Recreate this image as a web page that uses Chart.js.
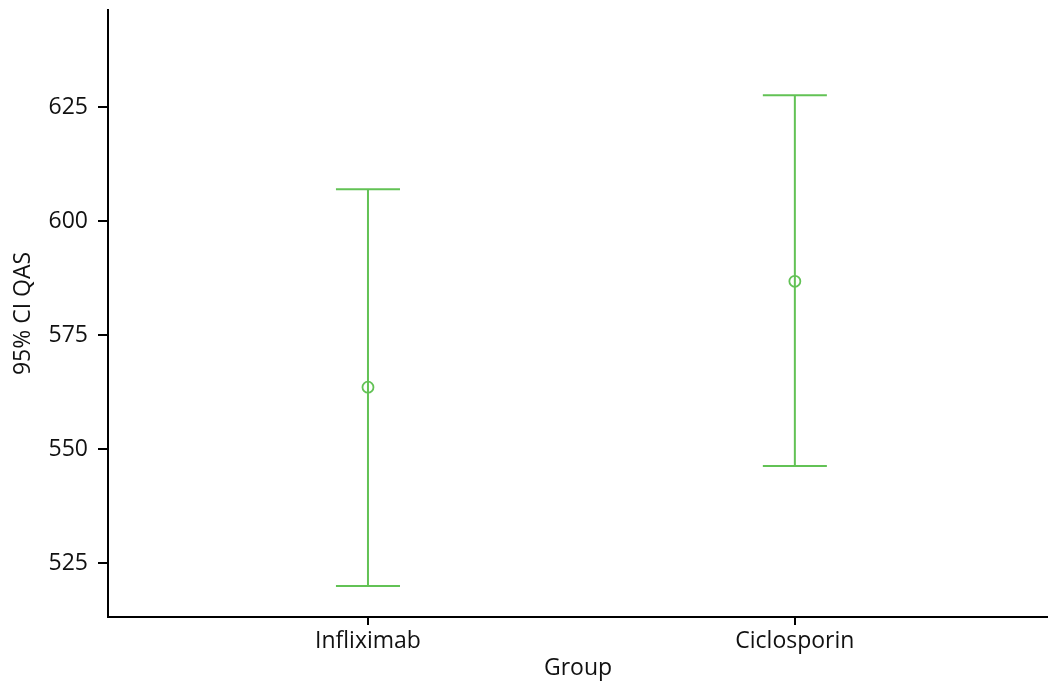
<!DOCTYPE html>
<html>
<head>
<meta charset="utf-8">
<script src="https://cdn.jsdelivr.net/npm/chart.js@4/dist/chart.umd.min.js"></script>
<style>
  html, body { margin: 0; padding: 0; background: #fff; overflow: hidden; }
  #wrap { width: 1048px; height: 684px; position: relative; }
  canvas { display: block; }
</style>
</head>
<body>
<div id="wrap"><canvas id="ciChart"></canvas></div>
<script>
const groups = ['Infliximab', 'Ciclosporin']
const means = [563.6, 586.8]
const lower = [520.0, 546.3]
const upper = [607.0, 627.6]
const yTicks = [525, 550, 575, 600, 625]

const green = '#62c255'
const capHalf = 0.075

Chart.defaults.font.family = 'Open Sans'
Chart.defaults.font.size = 23
Chart.defaults.color = '#111'

// one set of whisker + cap lines per group
const lineSets = []
groups.forEach((g, i) => {
  lineSets.push([{ x: i, y: lower[i] }, { x: i, y: upper[i] }])
  lineSets.push([{ x: i - capHalf, y: upper[i] }, { x: i + capHalf, y: upper[i] }])
  lineSets.push([{ x: i - capHalf, y: lower[i] }, { x: i + capHalf, y: lower[i] }])
})

const datasets = lineSets.map(pts => ({
  type: 'line',
  data: pts,
  borderColor: green,
  borderWidth: 2,
  pointRadius: 0,
  fill: false
}))

datasets.push({
  type: 'scatter',
  data: groups.map((g, i) => ({ x: i, y: means[i] })),
  borderColor: green,
  backgroundColor: 'rgba(0,0,0,0)',
  borderWidth: 1.8,
  pointRadius: 5.5
})

const noPad = scale => {
  scale.paddingTop = 0
  scale.paddingBottom = 0
  scale.paddingLeft = 0
  scale.paddingRight = 0
}

const myChart = new Chart(
  document.getElementById('ciChart'),
  {
    type: 'scatter',
    data: { datasets },
    options: {
      responsive: true,
      maintainAspectRatio: false,
      animation: false,
      layout: { autoPadding: false, padding: { top: 10, right: 0, left: 0, bottom: 0 } },
      plugins: {
        legend: { display: false },
        tooltip: { enabled: false }
      },
      scales: {
        x: {
          type: 'linear',
          min: -0.609,
          max: 1.593,
          afterBuildTicks: scale => { scale.ticks = groups.map((g, i) => ({ value: i })) },
          afterFit: scale => { scale.height = 67; noPad(scale) },
          ticks: {
            padding: 3,
            callback: v => groups[v]
          },
          grid: {
            drawOnChartArea: false,
            drawTicks: true,
            tickLength: 8,
            color: '#000',
            lineWidth: 2
          },
          border: { color: '#000', width: 2 },
          title: {
            display: true,
            text: 'Group',
            padding: { top: 0, bottom: 2 }
          }
        },
        y: {
          min: 513.2,
          max: 646.3,
          afterBuildTicks: scale => { scale.ticks = yTicks.map(v => ({ value: v })) },
          afterFit: scale => { scale.width = 108; noPad(scale) },
          ticks: {
            padding: 10
          },
          grid: {
            drawOnChartArea: false,
            drawTicks: true,
            tickLength: 10,
            color: '#000',
            lineWidth: 2
          },
          border: { color: '#000', width: 2 },
          title: {
            display: true,
            text: '95% CI QAS',
            padding: { top: 10, bottom: 0 }
          }
        }
      }
    }
  }
)

myChart.render()
</script>
</body>
</html>
